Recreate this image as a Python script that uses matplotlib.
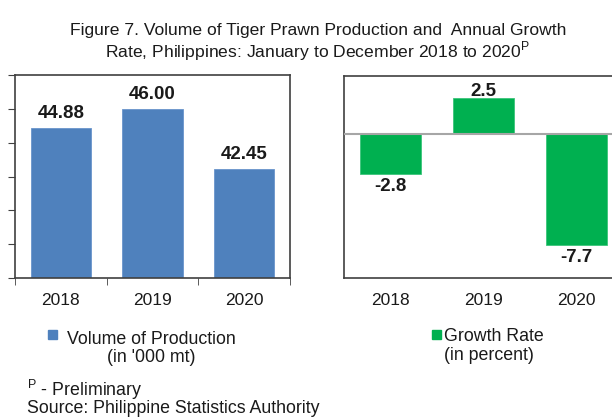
import matplotlib
matplotlib.use("Agg")
import matplotlib.pyplot as plt
from matplotlib.patches import Rectangle

plt.rcParams['font.family'] = ['Liberation Sans', 'DejaVu Sans']
plt.rcParams['mathtext.fontset'] = 'custom'
plt.rcParams['mathtext.rm'] = 'Liberation Sans'

years = ['2018', '2019', '2020']
volume = [44.88, 46.00, 42.45]      # '000 mt
growth = [-2.8, 2.5, -7.7]          # percent

BLUE = '#4F81BD'
GREEN = '#00B050'
FRAME = '#404040'
TXT = '#1a1a1a'
W, H = 612, 417


def fx(px):
    return px / W


def fy(py):
    return 1 - py / H


fig = plt.figure(figsize=(W / 100, H / 100), dpi=100)

# left panel: volume
ax1 = fig.add_axes([fx(15), fy(278), fx(290) - fx(15), fy(75) - fy(278)])
b1 = ax1.bar(range(3), volume, width=0.66, color=BLUE, edgecolor='#6A95CC', linewidth=0.6)
ax1.set_xlim(-0.5, 2.5)
ax1.set_ylim(36, 48)
ax1.set_yticks(range(36, 49, 2))
ax1.set_yticklabels([])
ax1.set_xticks(range(3))
ax1.set_xticklabels(years, fontsize=12.5, color=TXT)
ax1.set_xticks([-0.5, 0.5, 1.5, 2.5], minor=True)
ax1.tick_params(axis='x', which='major', length=0, pad=11)
ax1.tick_params(axis='x', which='minor', length=5, direction='out', color=FRAME)
ax1.tick_params(axis='y', length=5, direction='out', color=FRAME)
for s in ax1.spines.values():
    s.set_color(FRAME)
    s.set_linewidth(1.2)
ax1.bar_label(b1, labels=[f'{v:.2f}' for v in volume], padding=4,
              fontsize=13.5, fontweight='bold', color=TXT)

# right panel: growth rate
ax2 = fig.add_axes([fx(344), fy(278), fx(623) - fx(344), fy(76) - fy(278)])
b2 = ax2.bar(range(3), growth, width=0.66, color=GREEN, edgecolor='#3CC47A', linewidth=0.6)
ax2.axhline(0, color='#A6A6A6', linewidth=1.5, zorder=3)
ax2.set_xlim(-0.5, 2.5)
ax2.set_ylim(-10, 4)
ax2.set_yticks([])
ax2.set_xticks(range(3))
ax2.set_xticklabels(years, fontsize=12.5, color=TXT)
ax2.tick_params(axis='x', length=0, pad=11)
for s in ax2.spines.values():
    s.set_color(FRAME)
    s.set_linewidth(1.2)
pos_labels = [f'{v:.1f}' if v > 0 else '' for v in growth]
neg_labels = [f'{v:.1f}' if v < 0 else '' for v in growth]
ax2.bar_label(b2, labels=pos_labels, padding=-2,
              fontsize=13.5, fontweight='bold', color=TXT)
ax2.bar_label(b2, labels=neg_labels, padding=3,
              fontsize=13.5, fontweight='bold', color=TXT)

# legends (hand placed, as in the source figure)
fig.add_artist(Rectangle((fx(48), fy(339)), fx(57) - fx(48), fy(330) - fy(339),
                         transform=fig.transFigure, color=BLUE))
fig.text(fx(151), fy(344), 'Volume of Production', ha='center', va='baseline',
         fontsize=12.8, color=TXT)
fig.text(fx(151), fy(362), "(in '000 mt)", ha='center', va='baseline',
         fontsize=12.8, color=TXT)
fig.add_artist(Rectangle((fx(432), fy(339)), fx(441) - fx(432), fy(330) - fy(339),
                         transform=fig.transFigure, color=GREEN))
fig.text(fx(444), fy(341), 'Growth Rate', ha='left', va='baseline',
         fontsize=12.8, color=TXT)
fig.text(fx(444), fy(360), '(in percent)', ha='left', va='baseline',
         fontsize=12.8, color=TXT)

# title
fig.text(fx(318), fy(35), 'Figure 7. Volume of Tiger Prawn Production and  Annual Growth',
         ha='center', va='baseline', fontsize=12.6, color=TXT)
fig.text(fx(318), fy(57), r'Rate, Philippines: January to December 2018 to 2020$^{\mathrm{P}}$',
         ha='center', va='baseline', fontsize=12.6, color=TXT)

# footnotes
fig.text(fx(27), fy(395.5), r'$^{\mathrm{P}}$ - Preliminary', ha='left', va='baseline',
         fontsize=12.8, color=TXT)
fig.text(fx(27), fy(413), 'Source: Philippine Statistics Authority', ha='left', va='baseline',
         fontsize=12.8, color=TXT)

fig.savefig('out.png', dpi=100)
